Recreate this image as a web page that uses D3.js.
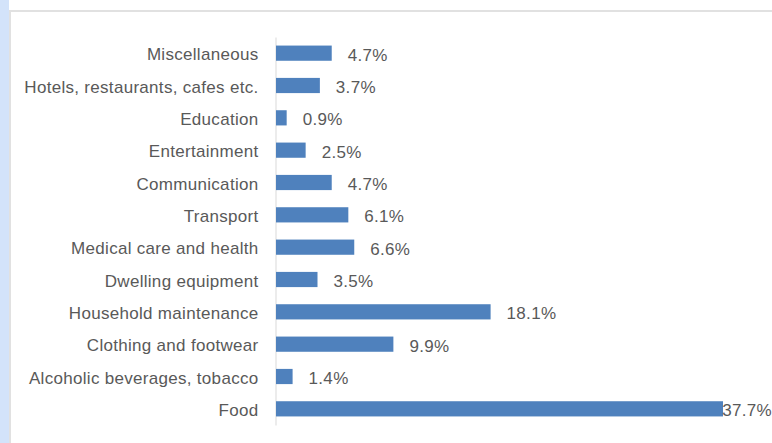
<!DOCTYPE html>
<html>
<head>
<meta charset="utf-8">
<script src="https://cdn.jsdelivr.net/npm/d3@7"></script>
<style>
  html, body { margin: 0; padding: 0; background: #ffffff; }
  svg { display: block; }
  text { font-family: "Liberation Sans", Arial, sans-serif; letter-spacing: 0.3px; }
</style>
</head>
<body>
<script>
// Household consumption expenditure structure, share of total (%)
const categories = [
  "Miscellaneous",
  "Hotels, restaurants, cafes etc.",
  "Education",
  "Entertainment",
  "Communication",
  "Transport",
  "Medical care and health",
  "Dwelling equipment",
  "Household maintenance",
  "Clothing and footwear",
  "Alcoholic beverages, tobacco",
  "Food"
];
const shares = [4.7, 3.7, 0.9, 2.5, 4.7, 6.1, 6.6, 3.5, 18.1, 9.9, 1.4, 37.7];
const valueLabels = ["4.7%", "3.7%", "0.9%", "2.5%", "4.7%", "6.1%", "6.6%", "3.5%", "18.1%", "9.9%", "1.4%", "37.7%"];

const W = 772, H = 443;
const svg = d3.select("body").append("svg").attr("width", W).attr("height", H);

// page frame: pale blue side strip and top rule
svg.append("rect").attr("x", 0).attr("y", 0).attr("width", 9).attr("height", H).attr("fill", "#d3e3fa");
svg.append("rect").attr("x", 9).attr("y", 10).attr("width", 2).attr("height", H - 10).attr("fill", "#e1e1e1");
svg.append("rect").attr("x", 9).attr("y", 10).attr("width", W - 9).attr("height", 2).attr("fill", "#e1e1e1");

const x = d3.scaleLinear().domain([0, 37.7]).range([276, 723]);
const y = d3.scaleBand().domain(categories).range([37, 425]).paddingInner(0.53).paddingOuter(0.265);

// category axis
const yAxis = svg.append("g").attr("transform", "translate(275.5,0)")
  .call(d3.axisLeft(y).tickSize(0).tickPadding(17));
yAxis.select(".domain").attr("stroke", "#d9d9d9").attr("stroke-width", 1);
yAxis.selectAll("text")
  .attr("font-size", 17)
  .attr("fill", "#595959")
  .attr("dy", "0.42em")
  .attr("font-family", "\"Liberation Sans\", Arial, sans-serif");

const data = categories.map((c, i) => ({ c, v: shares[i], label: valueLabels[i] }));

svg.append("g").selectAll("rect").data(data).join("rect")
  .attr("x", x(0))
  .attr("y", d => y(d.c))
  .attr("width", d => x(d.v) - x(0))
  .attr("height", y.bandwidth())
  .attr("fill", "#4f81bd");

svg.append("g").selectAll("text").data(data).join("text")
  .attr("y", d => y(d.c) + y.bandwidth() / 2)
  .attr("dy", "0.44em")
  .attr("font-size", 17)
  .attr("fill", "#595959")
  .text(d => d.label)
  .attr("x", function (d) {
    const w = this.getComputedTextLength();
    return Math.min(x(d.v) + 16, W - w);
  });
</script>
</body>
</html>
